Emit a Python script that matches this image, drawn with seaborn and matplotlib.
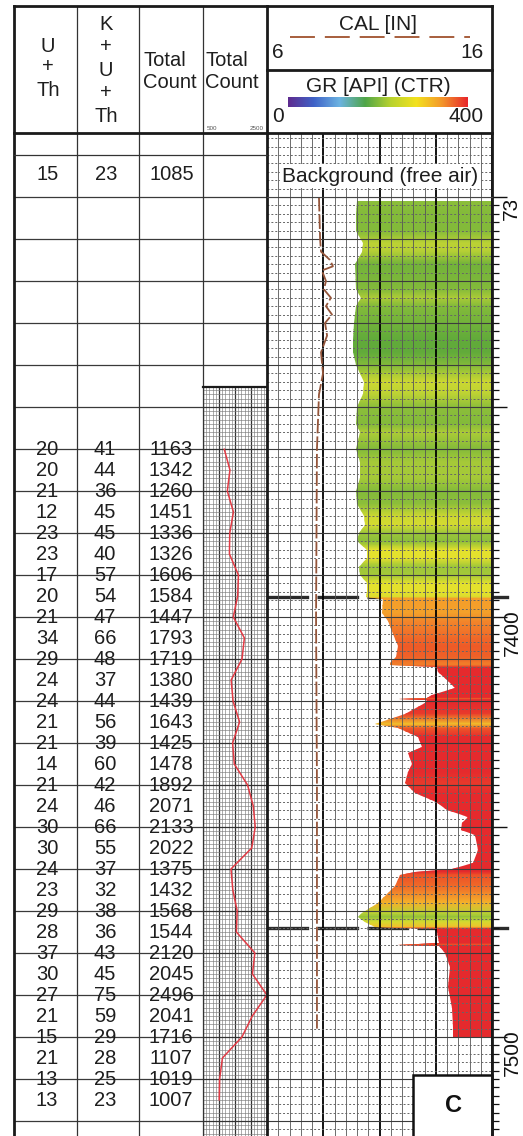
import numpy as np
import seaborn as sns
import matplotlib.pyplot as plt
from matplotlib.colors import LinearSegmentedColormap, Normalize
from matplotlib.patches import Rectangle
from matplotlib.ticker import MultipleLocator, FixedLocator, FuncFormatter, NullLocator
from matplotlib.transforms import Bbox, TransformedBbox, blended_transform_factory

# --- spectral table, one row every 5 ft ---
sample_depth = [7360, 7365, 7370, 7375, 7380, 7385, 7390, 7395, 7400, 7405,
                7410, 7415, 7420, 7425, 7430, 7435, 7440, 7445, 7450, 7455,
                7460, 7465, 7470, 7475, 7480, 7485, 7490, 7495, 7500, 7505,
                7510, 7515]
u_th = [20, 20, 21, 12, 23, 23, 17, 20, 21, 34, 29, 24, 24, 21, 21, 14, 21, 24, 30, 30,
        24, 23, 29, 28, 37, 30, 27, 21, 15, 21, 13, 13]
k_u_th = [41, 44, 36, 45, 45, 40, 57, 54, 47, 66, 48, 37, 44, 56, 39, 60, 42, 46, 66, 55,
          37, 32, 38, 36, 43, 45, 75, 59, 29, 28, 25, 23]
total_count = [1163, 1342, 1260, 1451, 1336, 1326, 1606, 1584, 1447, 1793,
               1719, 1380, 1439, 1643, 1425, 1478, 1892, 2071, 2133, 2022,
               1375, 1432, 1568, 1544, 2120, 2045, 2496, 2041, 1716, 1107,
               1019, 1007]
bg_u_th, bg_k_u_th, bg_total = 15, 23, 1085

# --- gamma ray log (API) ---
gr_depth = [7301, 7304, 7308, 7311, 7313, 7316, 7322, 7324, 7326, 7330,
            7334, 7337, 7340, 7344, 7347, 7350, 7354, 7356, 7360, 7363,
            7367, 7370, 7373, 7376, 7378, 7380, 7382, 7384, 7386, 7388,
            7390, 7392, 7394, 7395.2, 7395.6, 7399, 7401, 7404, 7407, 7409.5,
            7411, 7411.5, 7412, 7413, 7415, 7417, 7418.6, 7419.2, 7419.5, 7419.8,
            7420.5, 7423, 7425.5, 7426.5, 7428.5, 7431, 7432.4, 7435, 7437, 7439.5,
            7442, 7444, 7446, 7447.6, 7449, 7450.7, 7452, 7455.5, 7458.6, 7460,
            7460.7, 7461.4, 7464, 7465.7, 7468, 7470.5, 7471.4, 7472.6, 7473.8, 7474.3,
            7475, 7477.7, 7478, 7478.3, 7480, 7483.3, 7488, 7493, 7497.6, 7500]
gr_api = [160, 158, 158, 170, 168, 156, 158, 167, 158, 155,
          153, 152, 158, 172, 170, 160, 158, 166, 158, 165,
          165, 158, 160, 172, 174, 163, 160, 177, 178, 163,
          165, 178, 178, 176, 206, 204, 215, 224, 233, 230,
          219, 219, 302, 304, 320, 334, 293, 285, 234, 285,
          281, 245, 192, 233, 268, 275, 251, 258, 251, 245,
          263, 300, 320, 357, 347, 344, 370, 375, 366, 329,
          263, 237, 228, 215, 197, 169, 162, 174, 192, 299,
          302, 305, 233, 305, 316, 325, 322, 329, 331, 331]

# --- caliper (in) ---
cal_depth = [7300, 7310, 7313, 7315, 7316.5, 7317.5, 7320, 7322, 7324, 7326,
             7328, 7330, 7333, 7337, 7342, 7347, 7360, 7400, 7440, 7480, 7498]
cal_in = [8.31, 8.36, 8.40, 8.80, 8.93, 8.44, 8.62, 8.53, 8.84, 8.62,
          8.89, 8.58, 8.67, 8.40, 8.49, 8.31, 8.22, 8.18, 8.22, 8.22, 8.22]

marker_depth = [7395.2, 7474.0]
labeled_depth = [7400, 7500]

# colour ramps
bar_colors = ['#5e2b8f', '#3f63c8', '#6cb3e2', '#4fa548', '#b8d22e', '#f3e21e', '#f3962a', '#e8262b']
fill_stops = [0, 70, 115, 150, 163, 178, 198, 215, 235, 250, 400]
fill_colors = ['#5e2b8f', '#3f63c8', '#4fb2c8', '#55a53a', '#9cc63a', '#e8e22c',
               '#f5b02a', '#f2862a', '#ee5727', '#e52a2d', '#e52a2d']

sns.set_theme(style='white')
plt.rcParams['font.family'] = ['Liberation Sans', 'DejaVu Sans']

W, H = 523, 1136
PX_FT = 4.2


def rect(x0, y0, x1, y1):
    return [x0 / W, 1 - y1 / H, (x1 - x0) / W, (y1 - y0) / H]


def depth_at(y):
    return 7300 + (y - 197) / PX_FT


d_bot = depth_at(H)
fig = plt.figure(figsize=(W / 100, H / 100), dpi=100)
TXT = '#1e1e1e'
FS = 14.5

# ---------------- left table ----------------
ax_tab = fig.add_axes(rect(14, 197, 267, H))
ax_tab.set_xlim(14, 267)
ax_tab.set_ylim(d_bot, 7300)
ax_tab.axis('off')
rules = np.arange(7300, 7530, 10)
ax_tab.hlines(rules, 14, 203, color='#3a3a3a', lw=0.9, clip_on=False)
ax_tab.hlines(rules[rules <= 7340], 203, 267, color='#3a3a3a', lw=0.9, clip_on=False)
for d, a, b, c in zip(sample_depth, u_th, k_u_th, total_count):
    ax_tab.text(47, d, str(a), ha='center', va='center', fontsize=FS, color=TXT)
    ax_tab.text(105, d, str(b), ha='center', va='center', fontsize=FS, color=TXT)
    ax_tab.text(171, d, str(c), ha='center', va='center', fontsize=FS, color=TXT)

# total count track with chart paper
ax_tc = fig.add_axes(rect(203, 387, 267, H))
sns.lineplot(x=total_count, y=sample_depth, ax=ax_tc, sort=False, estimator=None,
             orient='y', color='#e23b45', linewidth=1.1)
ax_tc.set_xlim(500, 2500)
ax_tc.set_ylim(d_bot, depth_at(387))
ax_tc.xaxis.set_major_locator(MultipleLocator(500))
ax_tc.xaxis.set_minor_locator(MultipleLocator(100))
ax_tc.yaxis.set_major_locator(MultipleLocator(10))
ax_tc.yaxis.set_minor_locator(MultipleLocator(1))
ax_tc.grid(which='major', color='#333333', lw=0.9)
ax_tc.grid(which='minor', color='#7c7c7c', lw=0.45)
ax_tc.tick_params(which='both', length=0, labelbottom=False, labelleft=False)
ax_tc.set_xlabel('')
ax_tc.set_ylabel('')
for s in ax_tc.spines.values():
    s.set_visible(False)


# ---------------- right log track ----------------
def track_grid(ax, major_y=True):
    ax.set_xlim(0, 400)
    ax.xaxis.set_major_locator(MultipleLocator(100))
    ax.xaxis.set_minor_locator(MultipleLocator(20))
    ax.yaxis.set_major_locator(MultipleLocator(10) if major_y else NullLocator())
    ax.yaxis.set_minor_locator(MultipleLocator(2))
    ax.grid(which='major', axis='x', color='black', lw=1.3)
    ax.grid(which='minor', axis='x', color='#555555', lw=0.6)
    if major_y:
        ax.grid(which='major', axis='y', color='#3c3c3c', lw=0.8)
    ax.grid(which='minor', axis='y', color='#666666', lw=0.7, ls=(0, (2, 2)))
    ax.set_axisbelow(False)
    ax.tick_params(which='both', length=0, labelbottom=False, labelleft=False)
    for s in ax.spines.values():
        s.set_visible(False)


ax_bgr = fig.add_axes(rect(267, 133, 492, 197))
ax_bgr.set_ylim(7300, depth_at(133))
track_grid(ax_bgr, major_y=False)

ax_log = fig.add_axes(rect(267, 197, 492, H))
ax_log.set_ylim(d_bot, 7300)
track_grid(ax_log)

fill_cmap = LinearSegmentedColormap.from_list(
    'gr_fill', list(zip(np.array(fill_stops) / 400, fill_colors)))
poly = ax_log.fill_betweenx(gr_depth, gr_api, 400, facecolor='none', edgecolor='none')
n = len(gr_depth)
gx = np.column_stack([np.zeros(n), np.full(n, 400.0)])
gy = np.column_stack([gr_depth, gr_depth])
gc = np.column_stack([gr_api, gr_api])
mesh = ax_log.pcolormesh(gx, gy, gc, shading='gouraud', cmap=fill_cmap,
                         norm=Normalize(0, 400), zorder=1.5)
mesh.set_clip_path(poly.get_paths()[0], ax_log.transData)

for d in marker_depth:
    ax_log.axhline(d, xmin=0, xmax=(515 - 267) / 225, color='#2b2b2b', lw=2.4,
                   ls=(0, (12.5, 2.5)), clip_on=False, zorder=1.2)
ax_log.set_xlim(0, 400)
ax_log.set_ylim(d_bot, 7300)

ax_cal = ax_log.twiny()
sns.lineplot(x=cal_in, y=cal_depth, ax=ax_cal, sort=False, estimator=None, orient='y',
             color='#94553a', linewidth=1.3, linestyle=(0, (8, 1.7)))
ax_cal.set_xlim(6, 16)
ax_cal.set_ylim(d_bot, 7300)
ax_cal.axis('off')

# depth scale on the right
ax_depth = fig.add_axes(rect(267, 197, 492, H), frameon=False)
ax_depth.set_ylim(d_bot, 7300)
ax_depth.xaxis.set_major_locator(NullLocator())
ax_depth.yaxis.set_major_locator(FixedLocator([7300, 7350, 7400, 7450, 7500]))
ax_depth.yaxis.set_minor_locator(MultipleLocator(2))
ax_depth.yaxis.set_major_formatter(
    FuncFormatter(lambda v, p: str(int(round(v))) if int(round(v)) in labeled_depth else ''))
ax_depth.yaxis.tick_right()
ax_depth.tick_params(axis='y', which='major', length=11, width=1.0, direction='out',
                     pad=-3.5, labelsize=15, labelrotation=90, colors='#111111')
ax_depth.tick_params(axis='y', which='minor', length=5, width=0.9, direction='out',
                     colors='#111111')
ax_depth.patch.set_visible(False)
tr = blended_transform_factory(ax_depth.transAxes, ax_depth.transData)
t73 = fig.text(1.0444, 7300, '7300', transform=tr, rotation=90, ha='left',
               va='center', fontsize=15, color='#111111')
t73.set_clip_box(TransformedBbox(Bbox([[1.0, 0.0], [1.3, 0.9955]]), ax_depth.transAxes))
t73.set_clip_on(True)

# ---------------- frame, headers ----------------
fr = fig.add_axes([0, 0, 1, 1])
fr.patch.set_visible(False)
fr.set_zorder(10)


def seg(x0, y0, x1, y1, lw=1.0, color='#1a1a1a'):
    fr.plot([x0, x1], [y0, y1], color=color, lw=lw, solid_capstyle='projecting')


for x in (77, 139, 203):
    seg(x, 6, x, H, lw=0.9, color='#333333')
seg(14, 6, 267, 6, lw=2.0)
seg(14, 6, 14, H, lw=2.0)
seg(267, 6, 267, H, lw=2.0)
seg(14, 133, 267, 133, lw=2.0)
seg(14, 155, 267, 155, lw=0.9, color='#333333')
seg(203, 387, 267, 387, lw=1.6)
seg(267, 6, 492, 6, lw=2.0)
seg(492, 6, 492, H, lw=2.0)
seg(267, 70, 492, 70, lw=2.0)
seg(267, 133, 492, 133, lw=2.0)
seg(267, 197, 492, 197, lw=0.8, color='#444444')

hdr = dict(ha='center', va='center', fontsize=FS, color=TXT)
for s, y in zip(['U', '+', 'Th'], [47, 67, 90]):
    fr.text(48, y, s, **hdr)
for s, y in zip(['K', '+', 'U', '+', 'Th'], [25, 47, 70, 93, 117]):
    fr.text(106, y, s, **hdr)
for x0 in (143, 205):
    fr.text(x0, 60, 'Total', ha='left', va='center', fontsize=FS, color=TXT)
    fr.text(x0, 82, 'Count', ha='left', va='center', fontsize=FS, color=TXT)
fr.text(212, 129, '500', ha='center', va='center', fontsize=4.5, color='#555555')
fr.text(257, 129, '2500', ha='center', va='center', fontsize=4.5, color='#555555')

fr.text(48, 175, str(bg_u_th), **hdr)
fr.text(106, 175, str(bg_k_u_th), **hdr)
fr.text(172, 175, str(bg_total), **hdr)

fr.text(378, 24, 'CAL [IN]', ha='center', va='center', fontsize=15, color=TXT)
fr.plot([290, 470], [37, 37], color='#a0522d', lw=1.3, ls=(0, (13.8, 5.5)))
fr.text(272, 52, '6', ha='left', va='center', fontsize=15, color=TXT)
fr.text(484, 52, '16', ha='right', va='center', fontsize=15, color=TXT)
fr.text(378, 86, 'GR [API] (CTR)', ha='center', va='center', fontsize=15, color=TXT)
bar_cmap = LinearSegmentedColormap.from_list('gr_bar', bar_colors)
fr.imshow(np.linspace(0, 1, 256)[None, :], extent=(288, 468, 107, 97), cmap=bar_cmap,
          aspect='auto', zorder=2)
fr.text(272, 117, '0', ha='left', va='center', fontsize=15, color=TXT)
fr.text(484, 117, '400', ha='right', va='center', fontsize=15, color=TXT)
fr.text(380, 176, 'Background (free air)', ha='center', va='center', fontsize=15, color=TXT,
        bbox=dict(facecolor='white', edgecolor='none', pad=1.5))

fr.add_patch(Rectangle((413, 1075), 79, 70, facecolor='white', edgecolor='#111111', lw=1.8))
fr.text(453, 1106, 'C', ha='center', va='center', fontsize=17, fontweight='bold', color='#111111')

fr.set_xlim(0, W)
fr.set_ylim(H, 0)
fr.axis('off')

fig.savefig('out.png', dpi=100)
